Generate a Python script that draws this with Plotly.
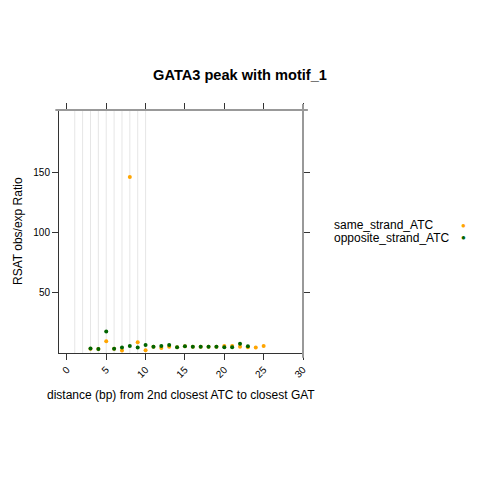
import plotly.graph_objects as go

# distance (bp) from 2nd closest ATC to closest GAT
same_x = [3, 4, 5, 6, 7, 8, 9, 10, 11, 12, 13, 14, 15, 16, 17, 18, 19, 20, 21, 22, 23, 24, 25]
same_y = [3.0, 2.8, 9.2, 3.0, 1.5, 146.0, 8.3, 1.7, 4.7, 3.6, 4.7, 4.2, 5.0, 4.5, 4.5, 4.7, 4.7, 5.3, 5.3, 4.7, 4.2, 4.0, 5.3]

opp_x = [3, 4, 5, 6, 7, 8, 9, 10, 11, 12, 13, 14, 15, 16, 17, 18, 19, 20, 21, 22, 23]
opp_y = [3.1, 2.8, 17.2, 3.0, 4.0, 5.3, 4.0, 6.0, 4.7, 5.3, 6.0, 4.2, 5.0, 4.5, 4.5, 4.7, 4.7, 4.2, 4.2, 7.2, 5.0]

ref_lines = [1, 2, 3, 4, 5, 6, 7, 8, 9, 10]
x_ticks = [0, 5, 10, 15, 20, 25, 30]
y_ticks = [50, 100, 150]

series_names = ["same_strand_ATC", "opposite_strand_ATC"]
series_colors = ["#FFA500", "#006400"]

FONT = "Liberation Sans, Arial, sans-serif"

# page offset from the default body margin
OFF = 8
L, R, T, B = 59 - OFF, 303 - OFF, 110 - OFF, 353 - OFF
W, H = R - L, B - T


def px(xp):
    return (xp - OFF - L) / W


def py(yp):
    return (B - (yp - OFF)) / H


fig = go.Figure()

# light vertical reference lines
for xv in ref_lines:
    fig.add_vline(x=xv, line=dict(color="#e6e6e6", width=1), layer="below")

fig.add_trace(go.Scatter(x=same_x, y=same_y, mode="markers", name=series_names[0],
                         marker=dict(color=series_colors[0], size=4)))
fig.add_trace(go.Scatter(x=opp_x, y=opp_y, mode="markers", name=series_names[1],
                         marker=dict(color=series_colors[1], size=4)))

fig.update_layout(
    width=480, height=480,
    margin=dict(l=L, r=480 - R, t=T, b=480 - B),
    paper_bgcolor="white", plot_bgcolor="white",
    showlegend=False,
    font=dict(family=FONT, color="black", size=10),
    title=dict(text="<b>GATA3 peak with motif_1</b>", x=(240 - OFF) / 480, xref="container",
               xanchor="center", y=1 - (75 - OFF) / 480, yref="container", yanchor="middle",
               font=dict(family=FONT, size=14.6, color="black")),
)

fig.update_xaxes(range=[-1, 30], tickvals=x_ticks, ticktext=[str(v) for v in x_ticks],
                 tickangle=-45, ticks="outside", ticklen=6, tickcolor="#333",
                 showline=True, linecolor="#333", linewidth=1, mirror="ticks",
                 showgrid=False, zeroline=False, tickfont=dict(size=10))
fig.update_yaxes(range=[-0.6, 201.7], tickvals=y_ticks, ticktext=[str(v) for v in y_ticks],
                 ticks="outside", ticklen=6, tickcolor="#333",
                 showline=True, linecolor="#333", linewidth=1, mirror="ticks",
                 showgrid=False, zeroline=False, tickfont=dict(size=10))

# gray top and right border like lattice
fig.add_shape(type="line", xref="paper", yref="paper", x0=-0.015, x1=1.02, y0=1, y1=1,
              line=dict(color="#999999", width=2))
fig.add_shape(type="line", xref="paper", yref="paper", x0=1, x1=1, y0=-0.02, y1=1.025,
              line=dict(color="#999999", width=2))

# axis titles
fig.add_annotation(text="distance (bp) from 2nd closest ATC to closest GAT",
                   xref="paper", yref="paper", x=px(181), y=py(395),
                   xanchor="center", yanchor="middle", showarrow=False,
                   font=dict(family=FONT, size=12, color="black"))
fig.add_annotation(text="RSAT obs/exp Ratio", textangle=-90,
                   xref="paper", yref="paper", x=px(18), y=py(231),
                   xanchor="center", yanchor="middle", showarrow=False,
                   font=dict(family=FONT, size=12, color="black"))

# legend on the right: text then key
for i, (name, col) in enumerate(zip(series_names, series_colors)):
    ypix = 225 + i * 12.5
    fig.add_annotation(text=name, xref="paper", yref="paper",
                       x=px(332), y=py(ypix),
                       xanchor="left", yanchor="middle", showarrow=False,
                       font=dict(family=FONT, size=12, color="black"))
    fig.add_annotation(text="●", xref="paper", yref="paper",
                       x=px(463), y=py(ypix),
                       xanchor="center", yanchor="middle", showarrow=False,
                       font=dict(family=FONT, size=8, color=col))

fig.write_html("out.html")
